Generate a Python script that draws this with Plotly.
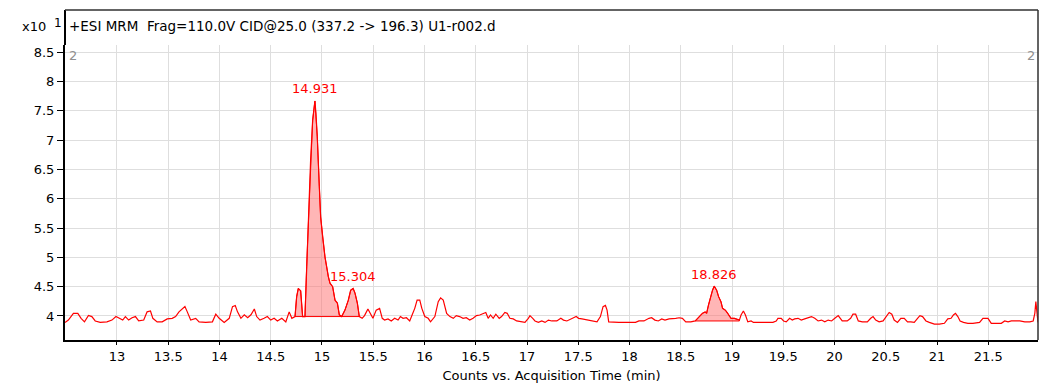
import plotly.graph_objects as go

# Chromatogram trace: acquisition time (min) and counts (x10^1)
time_min = [
    12.493, 12.526, 12.575, 12.618, 12.650, 12.683, 12.722, 12.755, 12.788, 12.837,
    12.902, 12.951, 12.990, 13.023, 13.056, 13.082, 13.114, 13.147, 13.180, 13.212,
    13.261, 13.294, 13.327, 13.350, 13.392, 13.441, 13.490, 13.539, 13.572, 13.605,
    13.637, 13.663, 13.686, 13.719, 13.768, 13.801, 13.866, 13.931, 13.964, 13.997,
    14.046, 14.095, 14.127, 14.154, 14.176, 14.209, 14.242, 14.275, 14.307, 14.340,
    14.363, 14.395, 14.435, 14.467, 14.500, 14.533, 14.565, 14.608, 14.647, 14.680,
    14.706, 14.729, 14.737, 14.753, 14.769, 14.792, 14.811, 14.834, 14.850, 14.876,
    14.889, 14.909, 14.931, 14.941, 14.954, 14.974, 14.987, 15.007, 15.029, 15.062,
    15.078, 15.104, 15.127, 15.150, 15.169, 15.192, 15.224, 15.257, 15.280, 15.304,
    15.322, 15.345, 15.364, 15.392, 15.415, 15.448, 15.471, 15.497, 15.529, 15.562,
    15.588, 15.611, 15.644, 15.676, 15.709, 15.742, 15.765, 15.791, 15.824, 15.856,
    15.882, 15.905, 15.928, 15.954, 15.974, 16.003, 16.036, 16.059, 16.101, 16.134,
    16.157, 16.183, 16.216, 16.248, 16.281, 16.310, 16.343, 16.376, 16.408, 16.441,
    16.474, 16.507, 16.539, 16.572, 16.598, 16.621, 16.644, 16.670, 16.696, 16.729,
    16.752, 16.784, 16.807, 16.833, 16.866, 16.899, 16.931, 16.980, 17.013, 17.029,
    17.056, 17.078, 17.111, 17.144, 17.176, 17.209, 17.242, 17.291, 17.330, 17.356,
    17.389, 17.422, 17.454, 17.480, 17.503, 17.536, 17.585, 17.634, 17.683, 17.716,
    17.742, 17.765, 17.781, 17.797, 17.846, 17.895, 17.944, 18.010, 18.059, 18.092,
    18.141, 18.190, 18.216, 18.248, 18.281, 18.314, 18.346, 18.386, 18.418, 18.451,
    18.484, 18.516, 18.549, 18.598, 18.641, 18.663, 18.686, 18.712, 18.739, 18.752,
    18.771, 18.794, 18.810, 18.826, 18.850, 18.869, 18.892, 18.908, 18.935, 18.958,
    18.990, 19.023, 19.056, 19.072, 19.088, 19.111, 19.131, 19.154, 19.186, 19.209,
    19.268, 19.333, 19.399, 19.431, 19.448, 19.480, 19.503, 19.529, 19.562, 19.588,
    19.611, 19.644, 19.676, 19.709, 19.742, 19.775, 19.807, 19.840, 19.873, 19.905,
    19.938, 19.971, 20.003, 20.036, 20.075, 20.124, 20.157, 20.180, 20.206, 20.232,
    20.271, 20.320, 20.353, 20.376, 20.402, 20.435, 20.474, 20.507, 20.533, 20.559,
    20.582, 20.614, 20.647, 20.680, 20.712, 20.745, 20.778, 20.810, 20.833, 20.859,
    20.892, 20.925, 20.974, 21.023, 21.072, 21.105, 21.137, 21.160, 21.180, 21.203,
    21.225, 21.258, 21.301, 21.350, 21.415, 21.448, 21.497, 21.529, 21.578, 21.627,
    21.660, 21.693, 21.725, 21.758, 21.807, 21.856, 21.905, 21.938, 21.954, 21.964,
    21.977, 21.985,
]
counts = [
    3.89, 3.93, 4.045, 4.045, 3.96, 3.90, 4.01, 3.99, 3.915, 3.89,
    3.90, 3.93, 3.99, 3.96, 3.93, 3.99, 3.93, 3.97, 3.99, 3.915,
    3.93, 4.07, 4.085, 3.96, 3.90, 3.90, 3.95, 3.96, 3.99, 4.07,
    4.13, 4.16, 4.07, 3.93, 3.96, 3.90, 3.89, 3.90, 4.03, 3.96,
    3.89, 3.96, 4.16, 4.18, 4.07, 3.96, 4.02, 3.97, 4.02, 4.12,
    3.99, 3.93, 3.96, 3.99, 3.93, 3.96, 3.915, 3.96, 3.90, 4.07,
    3.96, 3.99, 3.99, 4.33, 4.47, 4.43, 3.99, 3.99, 4.84, 5.92,
    6.66, 7.34, 7.67, 7.46, 7.06, 6.21, 5.69, 5.35, 5.01, 4.67,
    4.56, 4.50, 4.27, 4.22, 4.02, 3.99, 4.10, 4.27, 4.44, 4.47,
    4.39, 4.22, 3.99, 3.96, 4.006, 4.12, 4.045, 3.96, 4.10, 4.13,
    3.96, 3.93, 3.95, 3.915, 3.96, 3.93, 3.99, 3.96, 3.97, 3.915,
    4.03, 4.13, 4.27, 4.27, 4.13, 3.99, 3.96, 3.90, 3.99, 4.245,
    4.31, 4.27, 4.045, 3.99, 3.96, 4.006, 3.99, 3.96, 3.97, 3.93,
    3.96, 4.006, 4.017, 4.045, 4.06, 3.96, 4.017, 3.96, 4.03, 3.96,
    3.99, 4.06, 4.045, 3.96, 3.95, 3.915, 3.90, 3.89, 3.96, 4.006,
    3.96, 3.915, 3.89, 3.915, 3.89, 3.93, 3.915, 3.915, 3.96, 3.93,
    3.915, 3.95, 3.97, 3.99, 3.96, 3.95, 3.93, 3.915, 3.90, 3.99,
    4.16, 4.18, 4.10, 3.90, 3.89, 3.89, 3.89, 3.89, 3.89, 3.915,
    3.915, 3.96, 3.97, 3.93, 3.915, 3.95, 3.93, 3.95, 3.95, 3.96,
    3.97, 3.96, 3.90, 3.90, 3.915, 3.96, 3.99, 4.045, 4.07, 4.045,
    4.19, 4.36, 4.44, 4.51, 4.44, 4.33, 4.245, 4.13, 4.10, 4.045,
    3.96, 3.96, 3.94, 3.93, 4.017, 4.085, 4.017, 3.90, 3.915, 3.89,
    3.89, 3.89, 3.89, 3.915, 3.96, 3.96, 3.915, 3.90, 3.96, 3.93,
    3.95, 3.96, 3.93, 3.95, 3.97, 3.99, 3.96, 3.915, 3.93, 3.90,
    3.93, 3.915, 3.96, 4.006, 3.915, 3.915, 3.96, 4.03, 4.03, 3.915,
    3.90, 3.90, 3.96, 3.99, 3.93, 3.90, 3.915, 3.99, 4.06, 4.03,
    3.93, 3.89, 3.96, 3.96, 3.90, 3.90, 3.89, 3.96, 4.006, 3.99,
    3.915, 3.89, 3.86, 3.86, 3.875, 3.95, 3.96, 4.017, 4.045, 3.99,
    3.915, 3.89, 3.875, 3.875, 3.89, 3.96, 3.96, 3.875, 3.875, 3.875,
    3.915, 3.90, 3.915, 3.915, 3.915, 3.90, 3.90, 3.915, 4.045, 4.245,
    3.99, 3.89,
]

# Integrated peak windows: start time, end time, integration baseline
peak_start = [14.737, 15.192, 18.641]
peak_end = [15.192, 15.364, 19.072]
peak_base = [3.99, 3.99, 3.915]

# Labelled retention times
peak_rt = [14.931, 15.304, 18.826]

x_ticks = [13, 13.5, 14, 14.5, 15, 15.5, 16, 16.5, 17, 17.5, 18, 18.5,
           19, 19.5, 20, 20.5, 21, 21.5]
y_ticks = [4, 4.5, 5, 5.5, 6, 6.5, 7, 7.5, 8, 8.5]

header = "+ESI MRM  Frag=110.0V CID@25.0 (337.2 -> 196.3) U1-r002.d"
x_title = "Counts vs. Acquisition Time (min)"

FONT = "DejaVu Sans, Verdana, sans-serif"
RED = "#ff0000"

fig = go.Figure()

# Shaded peak areas between the trace and the integration baseline
for t0, t1, base in zip(peak_start, peak_end, peak_base):
    seg = [(t, c) for t, c in zip(time_min, counts) if t0 <= t <= t1]
    px = [t for t, _ in seg] + [t1, t0]
    py = [c for _, c in seg] + [base, base]
    fig.add_trace(go.Scatter(
        x=px, y=py, mode="lines", fill="toself",
        fillcolor="rgba(255,110,110,0.5)",
        line=dict(color=RED, width=1), hoverinfo="skip", showlegend=False,
    ))

fig.add_trace(go.Scatter(
    x=time_min, y=counts, mode="lines",
    line=dict(color=RED, width=1.2), showlegend=False,
))

annotations = []
for rt in peak_rt:
    i = min(range(len(time_min)), key=lambda k: abs(time_min[k] - rt))
    annotations.append(dict(
        x=rt, y=counts[i], xref="x", yref="y", text=f"{rt:.3f}",
        showarrow=False, yanchor="middle", yshift=12,
        font=dict(family=FONT, size=13, color=RED),
    ))

annotations += [
    dict(x=0, y=1.064, xref="paper", yref="paper", text=header,
         showarrow=False, xanchor="left", yanchor="middle", xshift=2,
         font=dict(family=FONT, size=13.5, color="#000000")),
    dict(x=0, y=1.064, xref="paper", yref="paper", text="x10",
         showarrow=False, xanchor="right", yanchor="middle", xshift=-17,
         font=dict(family=FONT, size=13, color="#000000")),
    dict(x=0, y=1.064, xref="paper", yref="paper", text="1",
         showarrow=False, xanchor="left", yanchor="middle", xshift=-13, yshift=3,
         font=dict(family=FONT, size=12, color="#000000")),
    dict(x=0, y=0.966, xref="paper", yref="paper", text="2",
         showarrow=False, xanchor="left", yanchor="middle", xshift=2,
         font=dict(family=FONT, size=13, color="#909090")),
    dict(x=1, y=0.966, xref="paper", yref="paper", text="2",
         showarrow=False, xanchor="right", yanchor="middle", xshift=-1,
         font=dict(family=FONT, size=13, color="#909090")),
]

# Frame around the header and plot
frame = dict(color="#303030", width=1.5)
shapes = [
    dict(type="line", xref="paper", yref="paper", x0=0, x1=0, y0=1, y1=1.119,
         line=dict(color="#000000", width=2)),
    dict(type="line", xref="paper", yref="paper", x0=0, x1=1, y0=1.119, y1=1.119,
         line=frame),
    dict(type="line", xref="paper", yref="paper", x0=1, x1=1, y0=0, y1=1.119,
         line=frame),
]

fig.update_layout(
    width=1041, height=385,
    margin=dict(l=65, r=3, t=45, b=45),
    paper_bgcolor="#ffffff", plot_bgcolor="#ffffff",
    font=dict(family=FONT, size=13, color="#000000"),
    annotations=annotations, shapes=shapes,
    xaxis=dict(
        range=[12.493, 21.985], tickvals=x_ticks,
        ticktext=[f"{v:g}" for v in x_ticks],
        showgrid=True, gridcolor="#dedede", gridwidth=1,
        showline=True, linecolor="#000000", linewidth=2,
        ticks="outside", ticklen=3, tickcolor="#000000",
        zeroline=False,
        title=dict(text=x_title, standoff=8, font=dict(size=13)),
        tickfont=dict(size=13),
    ),
    yaxis=dict(
        range=[3.590, 8.625], tickvals=y_ticks,
        ticktext=[f"{v:g}" for v in y_ticks],
        showgrid=True, gridcolor="#dedede", gridwidth=1,
        showline=True, linecolor="#000000", linewidth=2,
        ticks="outside", ticklen=6, tickcolor="#000000",
        zeroline=False, tickfont=dict(size=13),
    ),
)

fig.write_html("out.html")
